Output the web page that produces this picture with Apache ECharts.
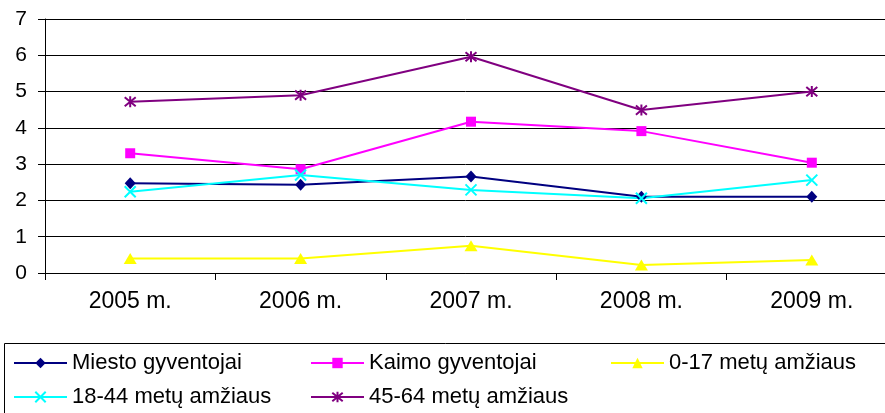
<!DOCTYPE html>
<html>
<head>
<meta charset="utf-8">
<script src="https://cdn.jsdelivr.net/npm/echarts@6/dist/echarts.min.js"></script>
<style>
  html, body { margin: 0; padding: 0; background: #fff; }
  #chart { width: 885px; height: 413px; }
</style>
</head>
<body>
<div id="chart"></div>
<script>
// Years on the category axis
const years = ['2005 m.', '2006 m.', '2007 m.', '2008 m.', '2009 m.'];

// Series names
const seriesNames = [
  'Miesto gyventojai',
  'Kaimo gyventojai',
  '0-17 metų amžiaus',
  '18-44 metų amžiaus',
  '45-64 metų amžiaus'
];

// Values per series
const miesto = [2.47, 2.43, 2.66, 2.1, 2.1];
const kaimo = [3.3, 2.86, 4.17, 3.91, 3.04];
const age0to17 = [0.4, 0.4, 0.75, 0.22, 0.36];
const age18to44 = [2.24, 2.7, 2.29, 2.06, 2.56];
const age45to64 = [4.72, 4.9, 5.96, 4.49, 5.0];

// Y axis ticks
const yTicks = [0, 1, 2, 3, 4, 5, 6, 7];

const FONT = '"Liberation Sans", Arial, sans-serif';

// Stroke-only marker shapes
const crossPath = 'path://M0,0L10,10M10,0L0,10';
const starPath = 'path://M0,0L10,10M10,0L0,10M5,-1L5,11';

function lineSeries(name, data, color, symbol, size, stroke) {
  return {
    name: name,
    type: 'line',
    data: data,
    symbol: symbol,
    symbolSize: size,
    showSymbol: true,
    animation: false,
    lineStyle: { color: color, width: 2 },
    itemStyle: stroke
      ? { color: 'rgba(0,0,0,0)', borderColor: color, borderWidth: 2 }
      : { color: color, borderColor: color, borderWidth: 0 },
    emphasis: { disabled: true }
  };
}

const chart = echarts.init(document.getElementById('chart'));

// One legend block per entry so each sits in its own column
const legendSpots = [
  { left: 13, top: 352 },
  { left: 310, top: 352 },
  { left: 610, top: 352 },
  { left: 13, top: 386 },
  { left: 310, top: 386 }
];

chart.setOption({
  backgroundColor: '#fff',
  animation: false,
  // plot runs slightly past the right edge of the canvas
  grid: { left: 45, top: 19, width: 852, bottom: 140, outerBoundsMode: 'none' },
  xAxis: {
    type: 'category',
    data: years,
    boundaryGap: true,
    axisLine: { lineStyle: { color: '#000', width: 1 } },
    axisTick: { show: true, length: 7, lineStyle: { color: '#000' } },
    axisLabel: { color: '#000', fontSize: 23, fontFamily: FONT, margin: 17 }
  },
  yAxis: {
    type: 'value',
    min: yTicks[0],
    max: yTicks[yTicks.length - 1],
    interval: 1,
    axisLine: { show: true, lineStyle: { color: '#000', width: 1 } },
    axisTick: { show: true, length: 7, lineStyle: { color: '#000' } },
    axisLabel: { color: '#000', fontSize: 21, fontFamily: FONT, margin: 18 },
    splitLine: { show: true, lineStyle: { color: '#000', width: 1 } }
  },
  legend: seriesNames.map((n, i) => ({
    data: [n],
    left: legendSpots[i].left,
    top: legendSpots[i].top,
    padding: 0,
    itemWidth: 53,
    itemHeight: 13,
    selectedMode: false,
    textStyle: { color: '#000', fontSize: 22, fontFamily: FONT }
  })),
  graphic: [{
    type: 'rect',
    shape: { x: 4.5, y: 343.5, width: 900, height: 100 },
    style: { fill: 'none', stroke: '#000', lineWidth: 1 },
    silent: true
  }],
  series: [
    lineSeries(seriesNames[0], miesto, '#000080', 'diamond', [11, 12], false),
    lineSeries(seriesNames[1], kaimo, '#FF00FF', 'rect', 10, false),
    lineSeries(seriesNames[2], age0to17, '#FFFF00', 'triangle', [13, 11], false),
    lineSeries(seriesNames[3], age18to44, '#00FFFF', crossPath, 11, true),
    lineSeries(seriesNames[4], age45to64, '#800080', starPath, 11, true)
  ]
});
</script>
</body>
</html>
